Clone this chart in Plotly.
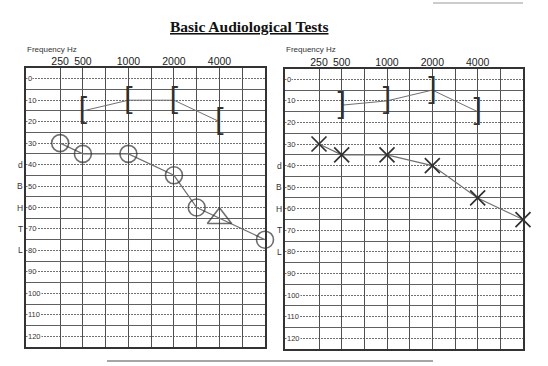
import plotly.graph_objects as go

# ---------------- data ----------------
freq_categories = ["250", "500", "750", "1000", "1500", "2000", "3000", "4000", "6000", "8000"]
freq_labels_shown = ["250", "500", "1000", "2000", "4000"]
db_levels = [0, 10, 20, 30, 40, 50, 60, 70, 80, 90, 100, 110, 120]
side_letters = ["d", "B", "H", "T", "L"]
side_letter_levels = [40, 50, 60, 70, 80]

# Left audiogram: right ear air conduction (O, masked at 4000 = triangle)
right_air_freq = ["250", "500", "1000", "2000", "3000", "4000", "8000"]
right_air_db = [30, 35, 35, 45, 60, 65, 75]
right_air_sym = ["O", "O", "O", "O", "O", "TRI", "O"]

# Left audiogram: right ear masked bone conduction ([)
right_bone_freq = ["500", "1000", "2000", "4000"]
right_bone_db = [15, 10, 10, 20]

# Right audiogram: left ear air conduction (X)
left_air_freq = ["250", "500", "1000", "2000", "4000", "8000"]
left_air_db = [30, 35, 35, 40, 55, 65]

# Right audiogram: left ear masked bone conduction (])
left_bone_freq = ["500", "1000", "2000", "4000"]
left_bone_db = [12, 10, 5, 15]

title_text = "Basic Audiological Tests"

# ---------------- styling ----------------
W, H = 548, 366
PENCIL = "#303030"
LINE = "#707070"
GRID = "#505050"

left_dom_x = [26 / W, 265 / W]
left_dom_y = [1 - 347 / H, 1 - 68 / H]
right_dom_x = [285 / W, 523 / W]
right_dom_y = [1 - 349 / H, 1 - 68.5 / H]

sym_map = {"O": "circle-open", "TRI": "triangle-up-open"}
size_map = {"O": 17, "TRI": 21}

fig = go.Figure()

# left chart traces
fig.add_trace(go.Scatter(
    x=right_air_freq, y=right_air_db, mode="lines+markers",
    line=dict(color=LINE, width=1.2),
    marker=dict(symbol=[sym_map[s] for s in right_air_sym],
                size=[size_map[s] for s in right_air_sym],
                color=PENCIL, line=dict(width=1.6, color=PENCIL)),
    cliponaxis=False, xaxis="x", yaxis="y", showlegend=False))
fig.add_trace(go.Scatter(
    x=right_bone_freq, y=right_bone_db, mode="lines+text",
    text=["["] * len(right_bone_freq), textposition="middle center",
    textfont=dict(size=30, color=PENCIL, family="Liberation Sans"),
    line=dict(color=LINE, width=1),
    cliponaxis=False, xaxis="x", yaxis="y", showlegend=False))

# right chart traces
fig.add_trace(go.Scatter(
    x=left_air_freq, y=left_air_db, mode="lines+markers",
    line=dict(color=LINE, width=1.2),
    marker=dict(symbol="x-thin-open", size=15, color=PENCIL,
                line=dict(width=1.7, color=PENCIL)),
    cliponaxis=False, xaxis="x2", yaxis="y2", showlegend=False))
fig.add_trace(go.Scatter(
    x=left_bone_freq, y=left_bone_db, mode="lines+text",
    text=["]"] * len(left_bone_freq), textposition="middle center",
    textfont=dict(size=30, color=PENCIL, family="Liberation Sans"),
    line=dict(color=LINE, width=1),
    cliponaxis=False, xaxis="x2", yaxis="y2", showlegend=False))


def xaxis_cfg(domain, anchor):
    return dict(
        type="category", categoryorder="array", categoryarray=freq_categories,
        range=[-1.5, len(freq_categories) - 1], domain=domain, anchor=anchor,
        side="top", tickmode="array", tickvals=freq_categories,
        ticktext=[c if c in freq_labels_shown else "" for c in freq_categories],
        ticks="", ticklabelstandoff=-3,
        tickfont=dict(family="Arial", size=10.5, color="#222"),
        showgrid=True, gridcolor=GRID, gridwidth=1,
        showline=True, mirror=True, linecolor="#333", linewidth=1.5,
        zeroline=False, fixedrange=True)


def yaxis_cfg(domain, anchor):
    bounds = [v + 5 for v in db_levels[:-1]]
    return dict(
        range=[db_levels[-1] + 5, db_levels[0] - 5], domain=domain, anchor=anchor,
        tickmode="array", tickvals=bounds, showticklabels=False, ticks="",
        showgrid=True, gridcolor="#606060", gridwidth=1,
        minor=dict(tickmode="array", tickvals=db_levels, showgrid=True,
                   gridcolor="#707070", griddash="2px,1px", gridwidth=1, ticks=""),
        showline=True, mirror=True, linecolor="#333", linewidth=1.5,
        zeroline=False, fixedrange=True)


annotations = []
for xref, yref, xdom, ydom in [("x", "y", left_dom_x, left_dom_y),
                               ("x2", "y2", right_dom_x, right_dom_y)]:
    # dB row labels inside the first column
    for v in db_levels:
        annotations.append(dict(
            x=-1.47, y=v, xref=xref, yref=yref, text=str(v), showarrow=False,
            xanchor="left", yanchor="middle", bgcolor="white", borderpad=0,
            font=dict(family="Arial", size=7.5, color="#333")))
    # dBHTL vertical letters
    for letter, lv in zip(side_letters, side_letter_levels):
        annotations.append(dict(
            x=xdom[0] - 6 / W, y=lv, xref="paper", yref=yref, text=letter,
            showarrow=False, xanchor="center", yanchor="middle",
            font=dict(family="Arial", size=8.5, color="#333")))
    # Frequency Hz caption
    annotations.append(dict(
        x=xdom[0] - 1 / W, y=1 - 49 / H, xref="paper", yref="paper",
        text="Frequency Hz", showarrow=False, xanchor="left", yanchor="middle",
        font=dict(family="Arial", size=8, color="#333")))

annotations.append(dict(
    x=249 / W, y=1 - 27 / H, xref="paper", yref="paper",
    text="<b><u>" + title_text + "</u></b>", showarrow=False,
    xanchor="center", yanchor="middle",
    font=dict(family="Liberation Serif, Times New Roman, serif", size=15.5, color="#111")))

shapes = [
    dict(type="line", xref="paper", yref="paper", x0=433 / W, x1=523 / W,
         y0=1 - 3 / H, y1=1 - 3 / H, line=dict(color="#999", width=1.2)),
    dict(type="line", xref="paper", yref="paper", x0=107 / W, x1=433 / W,
         y0=1 - 361 / H, y1=1 - 361 / H, line=dict(color="#888", width=1.5)),
]

fig.update_layout(
    width=W, height=H, margin=dict(l=0, r=0, t=0, b=0),
    paper_bgcolor="white", plot_bgcolor="white",
    xaxis=xaxis_cfg(left_dom_x, "y"), yaxis=yaxis_cfg(left_dom_y, "x"),
    xaxis2=xaxis_cfg(right_dom_x, "y2"), yaxis2=yaxis_cfg(right_dom_y, "x2"),
    annotations=annotations, shapes=shapes, showlegend=False)

fig.write_html(
    "out.html",
    config={"displayModeBar": False},
    post_script="document.body.style.margin='0';document.body.style.padding='0';"
                "document.body.style.overflow='hidden';")
